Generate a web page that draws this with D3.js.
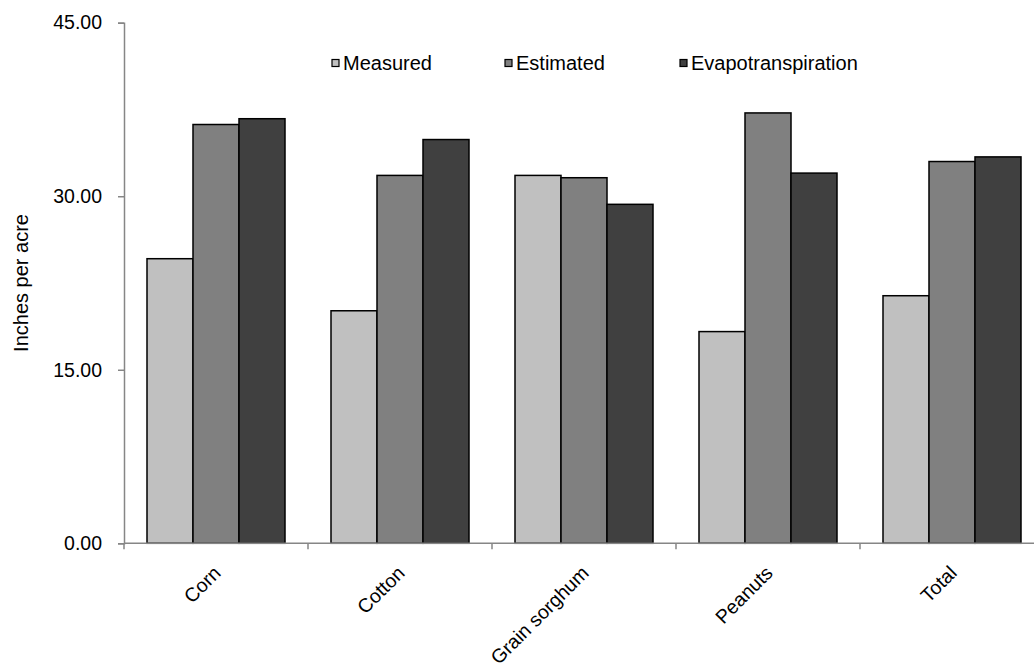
<!DOCTYPE html>
<html><head><meta charset="utf-8">
<script src="https://cdn.jsdelivr.net/npm/d3@7/dist/d3.min.js"></script>
<style>
html,body{margin:0;padding:0;background:#fff;}
svg{display:block;font-family:"Liberation Sans",Arial,sans-serif;}
</style></head>
<body>
<svg id="chart" width="1034" height="670"></svg>
<script>
const categories = ["Corn", "Cotton", "Grain sorghum", "Peanuts", "Total"];
const seriesNames = ["Measured", "Estimated", "Evapotranspiration"];
const measured = [24.6, 20.1, 31.8, 18.3, 21.4];
const estimated = [36.2, 31.8, 31.6, 37.2, 33.0];
const evapotranspiration = [36.7, 34.9, 29.3, 32.0, 33.4];
const seriesColors = ["#C0C0C0", "#808080", "#404040"];
const yTicks = [0, 15, 30, 45];
const yLabel = "Inches per acre";

const seriesValues = [measured, estimated, evapotranspiration];
const svg = d3.select("#chart");

const x0 = d3.scaleBand().domain(categories).range([124, 1044]).paddingInner(0.25).paddingOuter(0.125);
const x1 = d3.scaleBand().domain(seriesNames).range([0, x0.bandwidth()]).padding(0);
const y = d3.scaleLinear().domain([0, 45]).range([543.3, 22.7]);

// bars
const groups = svg.append("g").selectAll("g").data(categories).join("g")
  .attr("transform", d => `translate(${x0(d)},0)`);
groups.selectAll("rect").data((c, i) => seriesNames.map((s, j) => ({s, v: seriesValues[j][i], j})))
  .join("rect")
  .attr("x", d => x1(d.s))
  .attr("width", x1.bandwidth())
  .attr("y", d => y(d.v))
  .attr("height", d => y(0) - y(d.v))
  .attr("fill", d => seriesColors[d.j])
  .attr("stroke", "#000")
  .attr("stroke-width", 1.5);

// y axis
const yAxis = svg.append("g").attr("transform", "translate(124,0)")
  .call(d3.axisLeft(y).tickValues(yTicks).tickFormat(d3.format(".2f")).tickSize(6).tickPadding(16));
yAxis.select(".domain").attr("stroke", "#868686").attr("stroke-width", 1.5);
yAxis.selectAll(".tick line").attr("stroke", "#868686").attr("stroke-width", 1.5);
yAxis.selectAll(".tick text").attr("font-size", 19.5).attr("fill", "#000").attr("font-family", "Liberation Sans, Arial, sans-serif");

// x axis
const boundaries = d3.range(categories.length + 1).map(i => 124 + i * x0.step());
const xg = svg.append("g");
xg.append("line").attr("x1", 124).attr("x2", 1044).attr("y1", y(0)).attr("y2", y(0))
  .attr("stroke", "#868686").attr("stroke-width", 1.5);
xg.selectAll("line.tk").data(boundaries).join("line").attr("class", "tk")
  .attr("x1", d => d).attr("x2", d => d).attr("y1", y(0)).attr("y2", y(0) + 6)
  .attr("stroke", "#868686").attr("stroke-width", 1.5);
xg.selectAll("text").data(categories).join("text")
  .attr("transform", d => `translate(${x0(d) + x0.bandwidth() / 2 + 6},${y(0) + 31}) rotate(-45)`)
  .attr("text-anchor", "end")
  .attr("font-size", 19.5)
  .attr("fill", "#000")
  .text(d => d);

// y label
svg.append("text")
  .attr("transform", `translate(28,${(y(0) + y(45)) / 2}) rotate(-90)`)
  .attr("text-anchor", "middle")
  .attr("font-size", 20)
  .attr("fill", "#000")
  .text(yLabel);

// legend
const legendX = [332, 505, 680];
const lg = svg.append("g").selectAll("g").data(seriesNames).join("g")
  .attr("transform", (d, i) => `translate(${legendX[i]},63)`);
lg.append("rect").attr("x", 0).attr("y", -3.5).attr("width", 7).attr("height", 7)
  .attr("fill", (d, i) => seriesColors[i]).attr("stroke", "#000").attr("stroke-width", 1.2);
lg.append("text").attr("x", 11).attr("y", 0).attr("dy", "0.35em")
  .attr("font-size", 20).attr("fill", "#000").text(d => d);
</script>
</body></html>
